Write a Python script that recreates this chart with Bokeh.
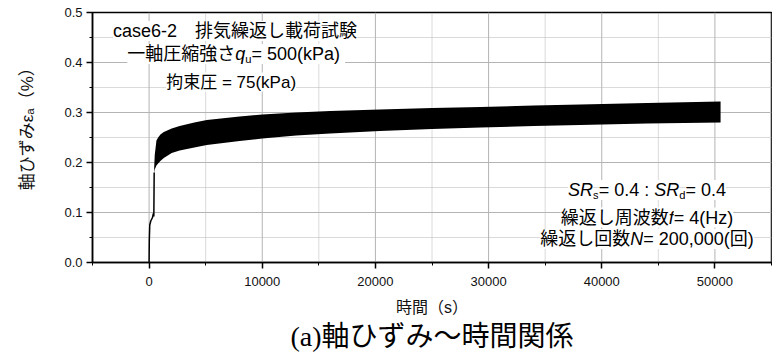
from bokeh.plotting import figure
from bokeh.models import Label, Title, SingleIntervalTicker, NumeralTickFormatter, Range1d
from bokeh.embed import file_html
from bokeh.resources import INLINE

# --- data -------------------------------------------------------------
# first loading stage (single trace before cyclic loading begins)
t_initial = [0, 20, 60, 150, 300, 380, 420, 450]
strain_initial = [0.0, 0.045, 0.075, 0.083, 0.09, 0.098, 0.092, 0.18]

# cyclic loading: envelope of the oscillating axial strain
t_cyclic = [450, 500, 650, 800, 1000, 1300, 2000, 2700, 4000, 5100, 8000,
            10000, 13000, 16000, 20400, 25000, 29300, 34000, 38100, 44000, 50500]
strain_upper = [0.19, 0.215, 0.244, 0.25, 0.256, 0.261, 0.268, 0.273, 0.28, 0.285, 0.292,
                0.296, 0.3, 0.303, 0.306, 0.309, 0.311, 0.314, 0.316, 0.319, 0.322]
strain_lower = [0.178, 0.186, 0.194, 0.198, 0.203, 0.209, 0.219, 0.224, 0.23, 0.235, 0.243,
                0.248, 0.254, 0.258, 0.263, 0.267, 0.27, 0.273, 0.275, 0.278, 0.28]

# axis limits and grid positions
X_MIN, X_MAX = -5000, 55000
Y_MIN, Y_MAX = 0.0, 0.5
x_major = [0, 10000, 20000, 30000, 40000, 50000]
x_minor = [-5000, 5000, 15000, 25000, 35000, 45000, 55000]
y_major = [0.1, 0.2, 0.3, 0.4]
y_minor = [0.05, 0.15, 0.25, 0.35, 0.45]

FONT = "Liberation Sans, 'Noto Sans CJK JP'"
GRID = "#b4b4b4"

p = figure(width=772, height=354, output_backend="svg", toolbar_location=None,
           x_range=Range1d(X_MIN, X_MAX), y_range=Range1d(Y_MIN, Y_MAX),
           min_border_left=92, min_border_right=1, min_border_top=12, min_border_bottom=92)
p.background_fill_color = "white"
p.border_fill_color = "white"
p.outline_line_color = "black"
p.outline_line_width = 1.5

p.xaxis.ticker = SingleIntervalTicker(interval=10000, num_minor_ticks=2)
p.yaxis.ticker = SingleIntervalTicker(interval=0.1, num_minor_ticks=2)
p.xaxis.formatter = NumeralTickFormatter(format="0")
p.yaxis.formatter = NumeralTickFormatter(format="0.0")
p.xgrid.visible = False
p.ygrid.visible = False

for ax in (p.xaxis, p.yaxis):
    ax.axis_line_color = "black"
    ax.axis_line_width = 1.5
    ax.major_tick_line_color = "black"
    ax.major_tick_line_width = 1.5
    ax.minor_tick_line_color = "black"
    ax.major_tick_in = 0
    ax.major_tick_out = 6
    ax.minor_tick_in = 0
    ax.minor_tick_out = 3
    ax.major_label_text_font = FONT
    ax.major_label_text_font_size = "13px"
    ax.major_label_text_color = "#111111"
    ax.axis_label_text_font = FONT
    ax.axis_label_text_font_style = "normal"
    ax.axis_label_text_color = "#111111"

p.xaxis.major_label_standoff = 8
p.xaxis.axis_label = "時間（s）"
p.xaxis.axis_label_text_font_size = "16px"
p.xaxis.axis_label_standoff = 10

p.yaxis.major_label_standoff = 4
# leading ideographic space lifts the rotated label slightly above the frame centre
p.yaxis.axis_label = "\u3000\u2002軸ひずみεₐ（%）"
p.yaxis.axis_label_text_font_size = "17px"
p.yaxis.axis_label_standoff = 24

# grid lines as plain segments, painted first so the data covers them
p.segment(x0=x_minor, y0=[Y_MIN] * len(x_minor), x1=x_minor, y1=[Y_MAX] * len(x_minor),
          line_color=GRID, line_width=1, line_dash="1 1")
p.segment(x0=[X_MIN] * len(y_minor), y0=y_minor, x1=[X_MAX] * len(y_minor), y1=y_minor,
          line_color=GRID, line_width=1, line_dash="1 1")
p.segment(x0=x_major, y0=[Y_MIN] * len(x_major), x1=x_major, y1=[Y_MAX] * len(x_major),
          line_color=GRID, line_width=1)
p.segment(x0=[X_MIN] * len(y_major), y0=y_major, x1=[X_MAX] * len(y_major), y1=y_major,
          line_color=GRID, line_width=1)

# strain band and initial trace
p.varea(x=t_cyclic, y1=strain_lower, y2=strain_upper, fill_color="black")
p.line(t_initial, strain_initial, line_color="black", line_width=1.5)

# --- annotation text with italics and subscripts ----------------------
ARIAL = {" ": .278, "(": .333, ")": .333, ",": .278, "-": .333, ".": .278, "=": .584,
         ":": .278, "%": .889, "a": .556, "c": .5, "e": .556, "s": .5, "k": .5, "P": .667,
         "H": .722, "z": .5, "S": .667, "R": .722, "N": .722, "d": .556, "u": .556,
         "q": .556, "f": .278}


def seg_width(text, size):
    w = 0.0
    for ch in text:
        if ord(ch) > 0x2E80:
            w += 1.0
        elif ch.isdigit():
            w += 0.556
        else:
            w += ARIAL.get(ch, 0.556)
    return w * size


def rich_line(x, y, segs, size=17):
    items = []
    for text, kind in segs:
        fs = size * 0.62 if kind == "s" else size
        items.append((text, kind, fs, seg_width(text, fs)))
    off = -sum(it[3] for it in items) / 2
    for text, kind, fs, w in items:
        p.add_layout(Label(x=x, y=y, x_offset=off, y_offset=-size * 0.25 if kind == "s" else 0,
                           text=text, text_font=FONT, text_font_size=f"{fs:.1f}px",
                           text_font_style="italic" if kind == "i" else "normal",
                           text_align="left", text_baseline="alphabetic",
                           text_color="black", background_fill_color="white"))
        off += w


rich_line(7600, 0.463, [("case6-2　排気繰返し載荷試験", "n")], size=18)
rich_line(7700, 0.417, [("一軸圧縮強さ", "n"), ("q", "i"), ("u", "s"), (" = 500(kPa)", "n")], size=18)
rich_line(7250, 0.361, [("拘束圧 = 75(kPa)", "n")])

rich_line(44000, 0.145, [("SR", "i"), ("s", "s"), ("= 0.4 : ", "n"), ("SR", "i"), ("d", "s"), ("= 0.4", "n")], size=18)
rich_line(44000, 0.09, [("繰返し周波数", "n"), ("f", "i"), ("= 4(Hz)", "n")], size=18)
rich_line(44000, 0.047, [("繰返し回数", "n"), ("N", "i"), ("= 200,000(回)", "n")], size=18)

caption = Title(text="(a)軸ひずみ～時間関係", align="center",
                text_font="Liberation Serif, 'Noto Sans CJK JP'",
                text_font_size="28px", text_font_style="normal", text_color="black",
                standoff=1)
p.add_layout(caption, "below")

open("out.html", "w").write(file_html(p, INLINE))
